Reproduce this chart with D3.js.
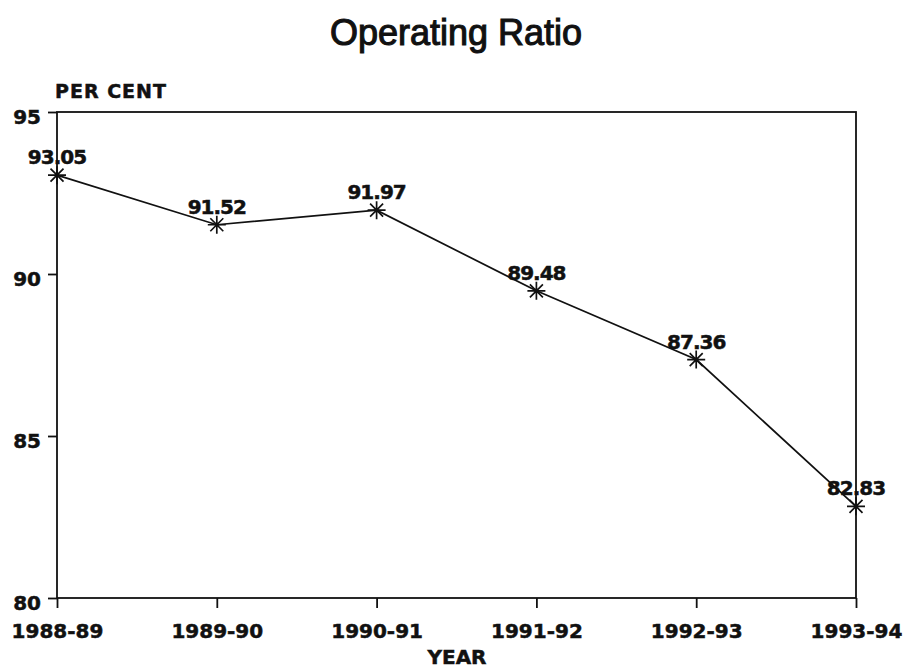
<!DOCTYPE html>
<html>
<head>
<meta charset="utf-8">
<script src="https://cdn.jsdelivr.net/npm/d3@7"></script>
<style>
  html, body { margin: 0; padding: 0; background: #fff; }
  svg { display: block; }
  .lbl { font-family: "DejaVu Sans", sans-serif; font-weight: bold; fill: #111; stroke: #111; stroke-width: 0.5px; }
</style>
</head>
<body>
<svg id="chart" width="904" height="669"></svg>
<script>
// Operating ratio by financial year (per cent)
const years = ["1988-89", "1989-90", "1990-91", "1991-92", "1992-93", "1993-94"];
const ratios = [93.05, 91.52, 91.97, 89.48, 87.36, 82.83];
const yTicks = [80, 85, 90, 95];

const svg = d3.select("#chart");
const plotLeft = 57, plotRight = 856, plotTop = 112, plotBottom = 598;

const x = d3.scalePoint().domain(years).range([plotLeft, plotRight]);
const y = d3.scaleLinear().domain([80, 95]).range([plotBottom, plotTop]);

// Title
svg.append("text")
  .attr("x", 456).attr("y", 45)
  .attr("text-anchor", "middle")
  .style("font-family", "'Liberation Sans', Arial, sans-serif")
  .style("font-size", "36px")
  .style("fill", "#111")
  .style("stroke", "#111").style("stroke-width", 1.1)
  .text("Operating Ratio");

// Unit label
svg.append("text").attr("class", "lbl")
  .attr("x", 55).attr("y", 98)
  .style("font-size", "19px").style("letter-spacing", "1px")
  .text("PER CENT");

// Plot frame
svg.append("rect")
  .attr("x", plotLeft).attr("y", plotTop)
  .attr("width", plotRight - plotLeft).attr("height", plotBottom - plotTop)
  .attr("fill", "none").attr("stroke", "#111").attr("stroke-width", 1.8);

// Axes
const xAxis = svg.append("g")
  .attr("transform", `translate(0,${plotBottom})`)
  .call(d3.axisBottom(x).tickSize(10).tickPadding(8));
const yAxis = svg.append("g")
  .attr("transform", `translate(${plotLeft},0)`)
  .call(d3.axisLeft(y).tickValues(yTicks).tickSize(9).tickPadding(7));

[xAxis, yAxis].forEach(g => {
  g.select(".domain").remove();
  g.selectAll(".tick line").attr("stroke", "#111").attr("stroke-width", 1.8);
  g.selectAll(".tick text")
    .attr("class", "lbl")
    .style("font-size", "20px")
    .attr("fill", "#111");
});
xAxis.selectAll(".tick text").attr("dy", "1.1em");
yAxis.selectAll(".tick text").attr("dy", "0.55em");

// Axis title
svg.append("text").attr("class", "lbl")
  .attr("x", 457).attr("y", 664)
  .attr("text-anchor", "middle")
  .style("font-size", "20px")
  .text("YEAR");

// Series line
const pts = years.map((yr, i) => ({ yr, v: ratios[i] }));
svg.append("path")
  .datum(pts)
  .attr("fill", "none")
  .attr("stroke", "#111")
  .attr("stroke-width", 1.7)
  .attr("d", d3.line().x(d => x(d.yr)).y(d => y(d.v)));

// Asterisk markers
const r = 9, rd = 6.5;
const star = `M0,${-r}L0,${r}M${-r},0L${r},0M${-rd},${-rd}L${rd},${rd}M${-rd},${rd}L${rd},${-rd}`;
svg.append("g").selectAll("path")
  .data(pts).join("path")
  .attr("transform", d => `translate(${x(d.yr)},${y(d.v)})`)
  .attr("d", star)
  .attr("fill", "none").attr("stroke", "#111").attr("stroke-width", 1.7);

// Value labels
svg.append("g").selectAll("text")
  .data(pts).join("text")
  .attr("class", "lbl")
  .attr("x", d => x(d.yr))
  .attr("y", d => y(d.v) - 11)
  .attr("text-anchor", "middle")
  .style("font-size", "20px")
  .style("letter-spacing", "-1px")
  .text(d => d.v.toFixed(2));
</script>
</body>
</html>
